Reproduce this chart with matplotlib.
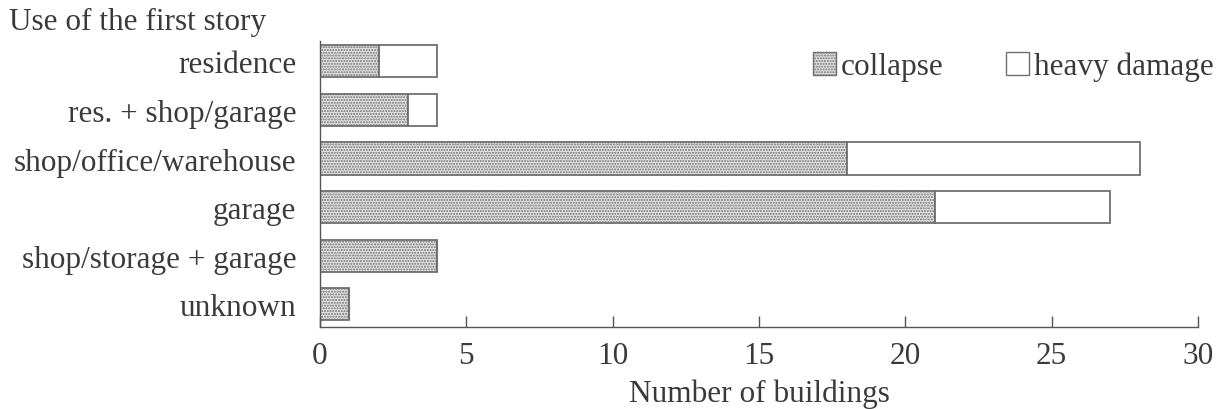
import matplotlib
matplotlib.use("Agg")
import matplotlib.pyplot as plt
from matplotlib.patches import Patch

categories = ["residence", "res. + shop/garage", "shop/office/warehouse", "garage",
              "shop/storage + garage", "unknown"]
collapse = [2, 3, 18, 21, 4, 1]
heavy_damage = [2, 1, 10, 6, 0, 0]
xticks = [0, 5, 10, 15, 20, 25, 30]

plt.rcParams['font.family'] = ['Liberation Serif', 'DejaVu Serif']
plt.rcParams['hatch.linewidth'] = 1.0

fs = 22.5
tc = '#3a3a3a'
fig = plt.figure(figsize=(12.2, 4.1), dpi=100)
ax = fig.add_axes([0.2623, 0.2, 0.7197, 0.6976])

y = list(range(len(categories)))
edge = '#707070'
ax.barh(y, collapse, height=0.66, color='#e4e4e4', edgecolor=edge, hatch='......', linewidth=1.3)
ax.barh(y, heavy_damage, left=collapse, height=0.66, color='white', edgecolor=edge, linewidth=1.3)

ax.set_xlim(0, 30)
ax.set_ylim(5.47, -0.42)
ax.set_xticks(xticks)
ax.set_yticks(y)
ax.set_yticklabels(categories)
ax.tick_params(axis='x', direction='in', length=8, width=1, color='#555', labelsize=fs, pad=10, labelcolor=tc)
ax.tick_params(axis='y', length=0, labelsize=fs, pad=17, labelcolor=tc)
for s in ['top', 'right']:
    ax.spines[s].set_visible(False)
for s in ['left', 'bottom']:
    ax.spines[s].set_color('#555')
    ax.spines[s].set_linewidth(1)
ax.set_xlabel("Number of buildings", fontsize=fs, color=tc, labelpad=6)

fig.text(0.007, 0.945, "Use of the first story", fontsize=fs, color=tc, va='center')

handles = [Patch(facecolor='#e4e4e4', edgecolor=edge, hatch='......', label='collapse'),
           Patch(facecolor='white', edgecolor=edge, label='heavy damage')]
ax.legend(handles=handles, ncol=2, frameon=False, fontsize=fs, loc='upper right',
          bbox_to_anchor=(1.05, 1.06), handlelength=0.75, handleheight=0.75,
          handletextpad=0.15, columnspacing=2.0, labelcolor=tc)

fig.savefig("out.png", dpi=100)
